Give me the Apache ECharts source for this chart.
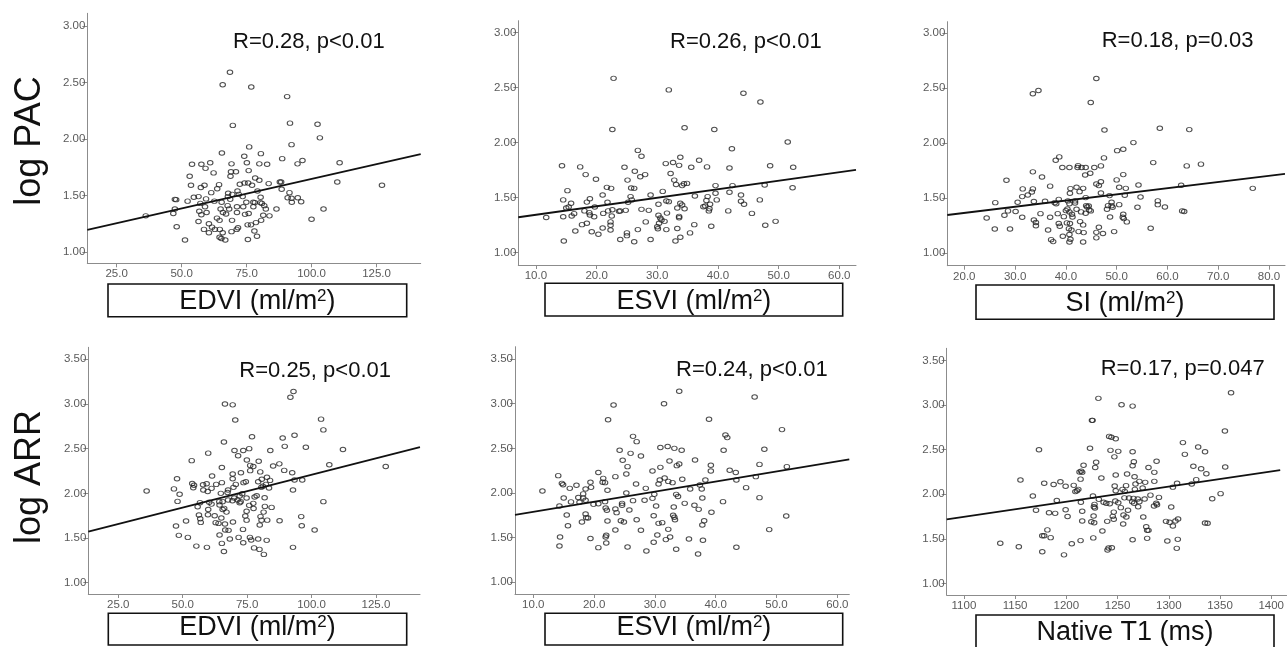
<!DOCTYPE html>
<html><head><meta charset="utf-8">
<script src="https://cdn.jsdelivr.net/npm/echarts@6/dist/echarts.min.js"></script>
<style>html,body{margin:0;padding:0;background:#fff}#c{width:1287px;height:647px}</style>
</head><body><div id="c"></div>
<script>
// ---------- tick labels ----------
const yTicksPAC = [1, 1.5, 2, 2.5, 3];
const yTicksARR = [1, 1.5, 2, 2.5, 3, 3.5];
const xTicksEDVI = [25, 50, 75, 100, 125];
const xTicksESVI = [10, 20, 30, 40, 50, 60];
const xTicksSI = [20, 30, 40, 50, 60, 70, 80];
const xTicksT1 = [1100, 1150, 1200, 1250, 1300, 1350, 1400];

// ---------- labels ----------
const rowTitles = ['log PAC', 'log ARR'];
const xTitles = ['EDVI (ml/m{s|2})', 'ESVI (ml/m{s|2})', 'SI (ml/m{s|2})', 'EDVI (ml/m{s|2})', 'ESVI (ml/m{s|2})', 'Native T1 (ms)'];
const statTexts = ['R=0.28, p<0.01', 'R=0.26, p<0.01', 'R=0.18, p=0.03', 'R=0.25, p<0.01', 'R=0.24, p<0.01', 'R=0.17, p=0.047'];

// ---------- data: [x, y] ----------
const pacEdvi = [[36.2,1.32],[51.3,1.106],[48.1,1.224],[68.6,2.59],[65.8,2.48],[76.8,2.46],[90.6,2.375],[69.7,2.12],[91.7,2.14],[102.3,2.13],[103.2,2.01],[92.3,1.95],[76.0,1.93],[65.5,1.876],[80.5,1.87],[74.1,1.847],[88.7,1.826],[96.5,1.81],[110.8,1.79],[54.0,1.776],[57.6,1.776],[61.0,1.79],[69.2,1.78],[75.1,1.79],[79.9,1.78],[82.9,1.776],[94.6,1.78],[59.2,1.74],[75.8,1.72],[70.9,1.71],[69.0,1.71],[62.3,1.70],[68.8,1.67],[53.1,1.67],[78.3,1.655],[79.9,1.635],[109.9,1.62],[87.8,1.62],[88.3,1.62],[53.6,1.59],[58.8,1.59],[64.4,1.596],[72.4,1.60],[74.2,1.61],[75.6,1.61],[83.5,1.605],[77.1,1.59],[57.4,1.57],[63.7,1.56],[127.1,1.59],[88.5,1.555],[61.4,1.525],[79.2,1.54],[71.5,1.54],[67.9,1.52],[72.0,1.51],[69.5,1.51],[91.5,1.525],[67.8,1.49],[54.7,1.484],[56.5,1.49],[59.4,1.47],[73.5,1.49],[80.4,1.484],[90.8,1.48],[94.7,1.48],[47.4,1.466],[47.9,1.463],[52.3,1.45],[57.2,1.43],[62.6,1.45],[65.4,1.44],[68.7,1.466],[74.9,1.44],[77.6,1.44],[78.2,1.437],[80.3,1.437],[80.9,1.43],[81.8,1.41],[92.4,1.44],[96.0,1.445],[92.3,1.475],[59.0,1.40],[67.7,1.41],[71.3,1.40],[73.7,1.40],[77.6,1.40],[47.4,1.38],[56.8,1.36],[65.0,1.38],[65.9,1.35],[68.3,1.38],[82.4,1.38],[86.5,1.38],[104.6,1.38],[46.8,1.34],[57.6,1.33],[59.6,1.35],[67.1,1.336],[71.3,1.35],[74.4,1.333],[75.8,1.34],[83.8,1.32],[81.4,1.325],[63.6,1.30],[64.6,1.28],[69.4,1.28],[78.6,1.26],[80.6,1.28],[100.0,1.29],[56.5,1.27],[60.5,1.25],[61.7,1.22],[62.8,1.20],[64.7,1.20],[71.2,1.20],[71.7,1.215],[75.4,1.24],[76.7,1.24],[58.6,1.20],[60.5,1.17],[65.8,1.17],[69.2,1.18],[78.0,1.186],[79.0,1.14],[64.6,1.13],[65.3,1.12],[66.8,1.106],[75.5,1.11]];

const pacEsvi = [[22.8,2.585],[31.9,2.48],[44.2,2.45],[47.0,2.37],[34.5,2.136],[39.4,2.12],[22.6,2.12],[51.5,2.006],[42.3,1.945],[26.8,1.93],[27.4,1.876],[33.8,1.867],[36.9,1.84],[32.6,1.82],[31.4,1.81],[33.6,1.794],[14.3,1.79],[17.3,1.78],[24.6,1.776],[35.6,1.776],[38.2,1.78],[41.9,1.77],[48.6,1.79],[52.4,1.776],[26.3,1.74],[32.2,1.72],[18.2,1.71],[28.0,1.71],[27.2,1.69],[19.9,1.667],[32.8,1.66],[25.1,1.66],[33.1,1.62],[34.1,1.61],[34.9,1.63],[34.4,1.627],[42.4,1.61],[39.6,1.61],[47.7,1.615],[21.7,1.594],[22.4,1.585],[25.7,1.588],[26.2,1.585],[52.3,1.59],[15.2,1.564],[30.9,1.557],[41.9,1.55],[39.6,1.54],[36.2,1.515],[21.0,1.524],[28.9,1.524],[25.6,1.51],[43.8,1.524],[18.9,1.49],[25.8,1.48],[14.5,1.48],[46.9,1.48],[31.5,1.47],[39.8,1.48],[38.3,1.51],[38.1,1.475],[31.9,1.464],[25.2,1.458],[18.4,1.46],[21.8,1.458],[43.8,1.467],[44.3,1.44],[15.8,1.45],[30.2,1.44],[33.8,1.45],[34.1,1.433],[38.7,1.44],[37.6,1.418],[37.9,1.424],[15.0,1.406],[15.4,1.415],[19.7,1.415],[18.0,1.38],[18.8,1.364],[21.9,1.38],[22.6,1.39],[23.9,1.38],[24.8,1.385],[27.4,1.394],[28.6,1.385],[33.3,1.406],[34.5,1.40],[38.6,1.40],[41.7,1.38],[45.6,1.357],[16.3,1.355],[15.9,1.333],[14.5,1.327],[11.7,1.32],[21.1,1.357],[22.5,1.333],[23.7,1.376],[30.2,1.34],[31.6,1.36],[33.6,1.33],[33.6,1.318],[38.5,1.38],[18.9,1.342],[19.6,1.327],[30.5,1.315],[30.7,1.297],[31.2,1.285],[22.3,1.28],[22.3,1.25],[17.6,1.255],[18.4,1.267],[28.1,1.28],[30.3,1.267],[36.1,1.255],[47.8,1.25],[49.5,1.285],[21.0,1.224],[30.0,1.236],[30.1,1.218],[33.3,1.22],[38.9,1.24],[31.5,1.21],[26.8,1.21],[22.3,1.206],[16.5,1.197],[19.2,1.19],[20.3,1.167],[25.0,1.18],[25.0,1.155],[35.4,1.18],[23.9,1.12],[28.9,1.12],[33.8,1.14],[14.6,1.106],[26.2,1.10],[33.0,1.106]];

const pacSi = [[46.0,2.588],[34.6,2.48],[33.5,2.45],[44.9,2.37],[58.5,2.136],[64.3,2.124],[47.6,2.12],[53.3,2.006],[51.3,1.945],[50.1,1.933],[38.7,1.876],[47.5,1.867],[38.0,1.845],[57.2,1.824],[66.6,1.81],[63.8,1.794],[42.4,1.797],[46.9,1.794],[39.3,1.78],[40.7,1.78],[42.3,1.78],[43.1,1.78],[43.9,1.78],[45.6,1.78],[33.5,1.74],[44.8,1.727],[43.8,1.712],[51.3,1.715],[35.3,1.694],[46.9,1.65],[50.0,1.667],[28.3,1.664],[46.0,1.63],[46.5,1.615],[62.7,1.618],[54.3,1.62],[36.9,1.61],[42.1,1.60],[43.4,1.59],[40.9,1.588],[50.5,1.60],[51.8,1.59],[76.8,1.59],[31.5,1.585],[33.5,1.585],[33.3,1.557],[42.7,1.56],[46.9,1.548],[40.8,1.545],[32.5,1.53],[31.4,1.515],[48.6,1.524],[51.6,1.527],[54.7,1.512],[43.9,1.506],[38.6,1.49],[40.4,1.476],[41.8,1.476],[58.1,1.476],[26.1,1.46],[30.5,1.464],[33.7,1.47],[35.9,1.473],[37.8,1.46],[38.1,1.45],[40.7,1.45],[41.8,1.457],[49.0,1.464],[50.5,1.442],[58.1,1.442],[49.0,1.433],[48.3,1.433],[44.0,1.433],[44.5,1.43],[49.2,1.418],[44.2,1.42],[59.5,1.42],[54.1,1.418],[40.3,1.403],[48.1,1.40],[42.1,1.40],[44.6,1.394],[44.9,1.385],[62.9,1.385],[63.3,1.38],[28.6,1.385],[30.1,1.38],[40.0,1.388],[40.7,1.376],[43.0,1.376],[43.9,1.364],[35.0,1.36],[38.4,1.36],[27.9,1.345],[41.2,1.355],[41.3,1.33],[39.6,1.333],[48.7,1.33],[51.3,1.355],[51.2,1.327],[36.9,1.327],[24.4,1.32],[31.4,1.327],[51.4,1.315],[33.7,1.303],[42.8,1.288],[52.0,1.285],[34.1,1.28],[38.6,1.27],[40.2,1.276],[40.8,1.27],[43.4,1.258],[34.1,1.25],[38.8,1.245],[46.5,1.236],[26.0,1.22],[29.0,1.22],[36.5,1.212],[40.6,1.224],[41.1,1.212],[56.7,1.227],[42.5,1.197],[43.5,1.188],[46.0,1.19],[49.5,1.197],[47.3,1.18],[39.4,1.155],[40.7,1.17],[46.0,1.14],[37.1,1.124],[37.5,1.106],[40.9,1.127],[40.7,1.103],[43.4,1.103]];

const arrEdvi = [[93.0,3.14],[91.8,3.075],[66.4,3.00],[69.4,2.99],[70.4,2.82],[103.7,2.83],[104.6,2.71],[66.0,2.575],[76.9,2.634],[93.4,2.65],[88.8,2.62],[89.6,2.526],[97.8,2.515],[112.2,2.49],[70.1,2.48],[73.5,2.48],[75.8,2.50],[84.0,2.48],[59.9,2.45],[71.5,2.42],[53.5,2.366],[74.9,2.373],[79.5,2.36],[87.5,2.33],[106.9,2.32],[85.1,2.306],[76.2,2.313],[77.4,2.30],[128.8,2.30],[65.2,2.29],[89.4,2.257],[92.5,2.23],[76.2,2.254],[72.6,2.23],[80.1,2.24],[69.4,2.216],[61.4,2.194],[47.8,2.164],[69.4,2.164],[80.7,2.157],[82.7,2.18],[83.9,2.145],[96.4,2.15],[93.4,2.15],[79.3,2.13],[74.5,2.13],[73.6,2.12],[65.2,2.12],[53.7,2.11],[59.3,2.108],[57.9,2.097],[54.4,2.09],[63.0,2.10],[70.6,2.10],[82.3,2.10],[81.1,2.08],[80.5,2.067],[69.7,2.067],[54.1,2.063],[61.2,2.056],[58.0,2.037],[83.5,2.06],[92.8,2.037],[59.7,2.02],[67.6,2.037],[67.4,2.01],[36.0,2.026],[46.6,2.05],[48.8,1.99],[64.8,2.00],[73.1,1.996],[78.7,1.974],[77.9,1.96],[72.1,1.97],[74.8,1.948],[81.8,1.95],[70.0,1.948],[67.6,1.925],[71.3,1.925],[69.3,1.918],[72.5,1.907],[48.0,1.91],[56.7,1.896],[60.3,1.90],[64.2,1.907],[65.5,1.907],[72.1,1.895],[77.4,1.888],[104.6,1.907],[61.2,1.88],[64.3,1.87],[75.8,1.866],[81.9,1.854],[84.5,1.843],[55.8,1.85],[65.5,1.82],[66.1,1.832],[59.9,1.82],[77.5,1.83],[74.8,1.80],[81.4,1.79],[67.0,1.79],[56.3,1.757],[59.8,1.76],[62.4,1.75],[74.3,1.746],[80.2,1.74],[96.0,1.74],[56.8,1.716],[74.8,1.70],[80.6,1.70],[82.8,1.70],[87.6,1.694],[65.0,1.724],[57.0,1.675],[51.3,1.69],[62.8,1.672],[63.9,1.664],[69.5,1.68],[66.4,1.657],[79.9,1.646],[96.2,1.638],[47.4,1.634],[66.5,1.59],[67.8,1.586],[73.4,1.597],[101.2,1.59],[48.5,1.53],[52.0,1.507],[64.3,1.534],[71.7,1.507],[76.1,1.507],[68.3,1.49],[76.6,1.478],[79.3,1.49],[82.6,1.474],[73.5,1.448],[65.2,1.44],[55.3,1.41],[59.4,1.396],[77.7,1.39],[79.8,1.373],[92.8,1.396],[66.0,1.35],[81.5,1.317]];

const arrEsvi = [[34.0,3.14],[46.4,3.075],[23.2,2.985],[31.5,3.00],[22.3,2.82],[38.9,2.825],[50.9,2.71],[26.4,2.634],[27.0,2.575],[41.6,2.65],[41.9,2.62],[24.2,2.478],[30.9,2.51],[32.1,2.52],[33.2,2.50],[34.4,2.478],[41.3,2.478],[48.0,2.49],[26.0,2.444],[27.7,2.414],[24.7,2.366],[32.4,2.358],[36.6,2.37],[33.6,2.306],[34.0,2.325],[39.2,2.31],[47.2,2.32],[51.7,2.295],[25.5,2.295],[30.9,2.287],[25.3,2.213],[29.6,2.246],[39.2,2.246],[42.3,2.254],[43.3,2.23],[20.7,2.23],[23.5,2.183],[46.6,2.183],[14.1,2.194],[21.5,2.164],[31.6,2.168],[30.8,2.146],[32.2,2.13],[32.9,2.116],[26.9,2.10],[38.3,2.146],[34.5,2.153],[43.4,2.146],[14.7,2.108],[14.9,2.093],[17.1,2.086],[19.4,2.12],[21.4,2.12],[21.8,2.116],[30.6,2.10],[16.0,2.052],[18.6,2.045],[19.5,2.063],[28.5,2.052],[35.8,2.045],[37.4,2.09],[37.7,2.045],[45.0,2.06],[11.5,2.022],[22.2,2.03],[25.3,2.00],[29.9,1.985],[33.5,1.985],[18.2,1.99],[33.8,1.96],[29.6,1.94],[37.8,1.944],[17.4,1.95],[18.2,1.944],[15.0,1.944],[47.2,1.948],[18.6,1.918],[26.4,1.914],[28.3,1.918],[21.8,1.903],[17.6,1.896],[16.2,1.90],[24.6,1.884],[34.9,1.884],[41.2,1.903],[19.9,1.873],[20.7,1.88],[24.6,1.862],[30.2,1.854],[14.3,1.854],[36.5,1.862],[21.9,1.832],[22.1,1.806],[23.5,1.82],[25.8,1.81],[33.1,1.843],[37.2,1.817],[39.3,1.784],[23.7,1.78],[15.5,1.754],[18.6,1.765],[29.8,1.746],[33.0,1.75],[33.2,1.728],[51.6,1.743],[18.7,1.724],[19.0,1.72],[33.3,1.70],[27.0,1.70],[24.4,1.69],[24.9,1.675],[22.2,1.687],[38.1,1.69],[18.0,1.675],[30.6,1.66],[31.2,1.668],[37.8,1.642],[15.7,1.634],[23.5,1.586],[27.7,1.582],[48.8,1.59],[30.4,1.53],[22.0,1.526],[21.9,1.507],[14.4,1.507],[19.4,1.49],[32.2,1.593],[32.5,1.507],[31.8,1.478],[35.6,1.485],[37.9,1.47],[22.0,1.44],[29.8,1.448],[14.3,1.407],[20.7,1.388],[25.5,1.396],[33.5,1.37],[43.4,1.392],[28.6,1.35],[37.1,1.317]];

const arrT1 = [[1360.8,3.14],[1231.3,3.077],[1253.9,3.006],[1264.7,2.99],[1225.0,2.83],[1225.6,2.83],[1354.8,2.71],[1241.8,2.65],[1244.0,2.64],[1248.2,2.624],[1313.8,2.58],[1328.7,2.53],[1223.1,2.516],[1173.3,2.50],[1243.1,2.493],[1250.7,2.482],[1264.7,2.478],[1335.4,2.478],[1315.7,2.448],[1246.9,2.42],[1265.9,2.366],[1288.1,2.37],[1229.1,2.36],[1264.7,2.32],[1216.8,2.325],[1324.0,2.314],[1331.6,2.287],[1228.2,2.30],[1280.2,2.30],[1355.1,2.306],[1214.5,2.26],[1212.9,2.25],[1215.5,2.246],[1285.9,2.246],[1336.7,2.23],[1259.3,2.228],[1248.2,2.216],[1234.2,2.183],[1266.6,2.197],[1155.2,2.16],[1213.9,2.17],[1326.8,2.164],[1194.2,2.14],[1271.3,2.145],[1277.0,2.134],[1285.9,2.145],[1178.4,2.123],[1187.6,2.11],[1267.5,2.116],[1308.1,2.123],[1322.4,2.116],[1199.3,2.09],[1207.2,2.10],[1258.3,2.097],[1247.2,2.093],[1304.0,2.08],[1211.7,2.055],[1210.4,2.04],[1208.8,2.03],[1248.2,2.04],[1254.8,2.055],[1257.0,2.033],[1274.5,2.07],[1266.9,2.055],[1282.1,1.99],[1350.6,2.007],[1167.3,1.98],[1226.0,1.98],[1231.7,1.943],[1256.7,1.96],[1261.2,1.958],[1265.6,1.954],[1269.7,1.947],[1276.4,1.947],[1290.4,1.965],[1342.4,1.95],[1190.7,1.93],[1214.2,1.91],[1236.4,1.91],[1239.0,1.90],[1242.4,1.894],[1247.8,1.924],[1250.7,1.905],[1264.3,1.917],[1266.2,1.90],[1271.3,1.917],[1287.8,1.90],[1227.5,1.887],[1226.9,1.86],[1227.9,1.846],[1285.6,1.868],[1288.5,1.883],[1302.4,1.857],[1253.2,1.85],[1270.1,1.86],[1170.4,1.82],[1199.3,1.827],[1260.2,1.82],[1215.5,1.81],[1246.3,1.80],[1183.1,1.793],[1189.1,1.786],[1201.2,1.75],[1226.6,1.756],[1255.8,1.767],[1258.6,1.745],[1245.3,1.752],[1246.3,1.72],[1275.1,1.745],[1224.4,1.692],[1227.2,1.68],[1215.5,1.70],[1239.9,1.696],[1297.3,1.696],[1300.8,1.685],[1306.5,1.70],[1309.1,1.722],[1304.0,1.644],[1335.4,1.677],[1337.9,1.674],[1255.5,1.666],[1278.0,1.636],[1278.9,1.595],[1280.2,1.595],[1235.2,1.588],[1181.5,1.60],[1176.5,1.535],[1178.4,1.535],[1184.7,1.513],[1226.3,1.51],[1278.9,1.505],[1213.9,1.48],[1264.7,1.49],[1298.6,1.475],[1308.8,1.494],[1205.3,1.445],[1135.5,1.45],[1153.6,1.41],[1176.5,1.355],[1241.2,1.397],[1244.4,1.40],[1240.2,1.374],[1307.8,1.393],[1197.7,1.32]];

// regression line end points [x, y]
const fitPacEdvi = [[13.7, 1.195], [142, 1.867]];
const fitPacEsvi = [[7.1, 1.322], [62.75, 1.752]];
const fitPacSi = [[16.65, 1.348], [83.15, 1.721]];
const fitArrEdvi = [[13.36, 1.571], [142.1, 2.516]];
const fitArrEsvi = [[6.99, 1.754], [61.97, 2.377]];
const fitArrT1 = [[1083.2, 1.718], [1408.8, 2.272]];

// ---------- layout ----------
const FONT = '"Liberation Sans", Arial, Helvetica, sans-serif';
const panels = [
  {grid:{left:87.3, top:13.3, width:333.4, height:250}, xr:[13.7,142], yr:[0.9,3.112], xt:xTicksEDVI, yt:yTicksPAC, xd:1, pts:pacEdvi, fit:fitPacEdvi,
   box:[108,284,298.7,32.7], boxTextY:302, stat:[233,42]},
  {grid:{left:518.3, top:20.7, width:337.7, height:244.3}, xr:[7.1,62.75], yr:[0.888,3.109], xt:xTicksESVI, yt:yTicksPAC, xd:1, pts:pacEsvi, fit:fitPacEsvi,
   box:[545,283.3,297.7,32.7], boxTextY:302, stat:[670,42]},
  {grid:{left:947.3, top:21.7, width:337.7, height:244}, xr:[16.65,83.15], yr:[0.887,3.105], xt:xTicksSI, yt:yTicksPAC, xd:1, pts:pacSi, fit:fitPacSi,
   box:[976,285,298,34.3], boxTextY:304, stat:[1101.7,41]},
  {grid:{left:88.3, top:347.3, width:331.7, height:246.7}, xr:[13.36,142.1], yr:[0.874,3.634], xt:xTicksEDVI, yt:yTicksARR, xd:1, pts:arrEdvi, fit:fitArrEdvi,
   box:[108.3,613.3,298.4,31.7], boxTextY:628, stat:[239.3,370.8]},
  {grid:{left:515, top:346.7, width:334.3, height:247.3}, xr:[6.99,61.97], yr:[0.869,3.638], xt:xTicksESVI, yt:yTicksARR, xd:1, pts:arrEsvi, fit:fitArrEsvi,
   box:[545,613.3,297.7,31.7], boxTextY:628, stat:[676,370]},
  {grid:{left:946.7, top:348.3, width:346.8, height:246.7}, xr:[1083.2,1415], yr:[0.869,3.639], xt:xTicksT1, yt:yTicksARR, xd:0, pts:arrT1, fit:fitArrT1,
   box:[976,615,298,45], boxTextY:633, stat:[1100.7,369]}
];

const axisCol = '#8c8c8c';
const labCol = '#5a5a5a';

const option = {
  animation: false,
  backgroundColor: '#fff',
  grid: panels.map(p => Object.assign({containLabel:false}, p.grid)),
  xAxis: panels.map((p, i) => ({
    type:'value', gridIndex:i, min:p.xr[0], max:p.xr[1],
    axisLine:{show:true, onZero:false, lineStyle:{color:axisCol, width:1}},
    axisTick:{show:true, inside:false, length:4, customValues:p.xt, lineStyle:{color:axisCol}},
    axisLabel:{show:true, customValues:p.xt, margin:5, color:labCol, fontSize:11.5, fontFamily:FONT,
      formatter: v => Number(v).toFixed(p.xd)},
    splitLine:{show:false}
  })),
  yAxis: panels.map((p, i) => ({
    type:'value', gridIndex:i, min:p.yr[0], max:p.yr[1],
    axisLine:{show:true, onZero:false, lineStyle:{color:axisCol, width:1}},
    axisTick:{show:true, inside:false, length:5, customValues:p.yt, lineStyle:{color:axisCol}},
    axisLabel:{show:true, customValues:p.yt, margin:2, color:labCol, fontSize:11.5, fontFamily:FONT,
      formatter: v => Number(v).toFixed(2)},
    splitLine:{show:false}
  })),
  series: [],
  graphic: []
};

panels.forEach((p, i) => {
  option.series.push({
    type:'scatter', xAxisIndex:i, yAxisIndex:i, data:p.pts,
    symbol:'circle', symbolSize:[5.5,4.5],
    itemStyle:{color:'rgba(255,255,255,0)', borderColor:'#222', borderWidth:1},
    emphasis:{disabled:true}, z:2
  });
  option.series.push({
    type:'line', xAxisIndex:i, yAxisIndex:i, data:p.fit, showSymbol:false, symbol:'none',
    lineStyle:{color:'#111', width:1.8}, z:3, silent:true
  });
  option.graphic.push({type:'text', x:p.stat[0], y:p.stat[1], z:10,
    style:{text:statTexts[i], fill:'#111', font:'22px '+FONT, textAlign:'left', textVerticalAlign:'middle'}});
  option.graphic.push({type:'rect', z:10,
    shape:{x:p.box[0], y:p.box[1], width:p.box[2], height:p.box[3]},
    style:{fill:'#fff', stroke:'#111', lineWidth:1.6}});
  option.graphic.push({type:'text', z:11, x:p.box[0]+p.box[2]/2, y:p.boxTextY,
    style:{text:xTitles[i], fill:'#111', font:'27px '+FONT, textAlign:'center', textVerticalAlign:'middle',
      rich:{s:{fontSize:17, fontFamily:FONT, fill:'#111', verticalAlign:'top', padding:[0,0,12,0]}}}});
});

option.graphic.push({type:'text', x:30, y:141, rotation:Math.PI/2, z:10,
  style:{text:rowTitles[0], fill:'#111', font:'36px '+FONT, textAlign:'center', textVerticalAlign:'middle'}});
option.graphic.push({type:'text', x:30, y:477, rotation:Math.PI/2, z:10,
  style:{text:rowTitles[1], fill:'#111', font:'36px '+FONT, textAlign:'center', textVerticalAlign:'middle'}});

const chart = echarts.init(document.getElementById('c'), null, {renderer:'canvas'});
chart.setOption(option);
</script>
</body></html>
